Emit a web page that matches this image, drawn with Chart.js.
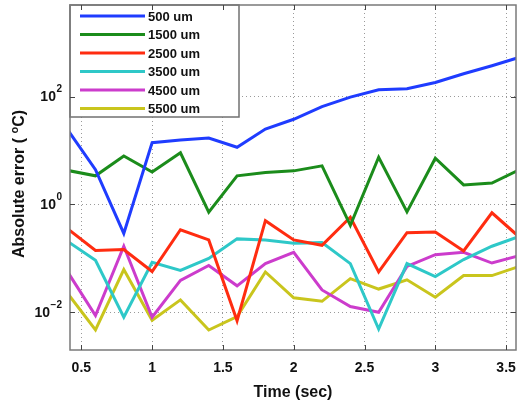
<!DOCTYPE html>
<html>
<head>
<meta charset="utf-8">
<title>Absolute error vs time</title>
<script src="https://cdn.jsdelivr.net/npm/chart.js@4.4.1/dist/chart.umd.min.js"></script>
<style>
  html, body { margin: 0; padding: 0; background: #fff; }
  canvas { display: block; }
</style>
</head>
<body>
<canvas id="errChart" width="517" height="402"></canvas>
<script>
// Time samples (sec)
const timeSec = [0.4, 0.6, 0.8, 1.0, 1.2, 1.4, 1.6, 1.8, 2.0, 2.2, 2.4, 2.6, 2.8, 3.0, 3.2, 3.4, 3.6];

// Absolute error (°C) per sensor depth
const err500 = [25, 4.4, 0.29, 14, 15.7, 17, 11.5, 25, 38, 65, 98, 134, 140, 183, 266, 374, 540];
const err1500 = [4.3, 3.4, 7.9, 4.0, 9.1, 0.72, 3.4, 3.9, 4.2, 5.2, 0.41, 7.5, 0.73, 7.2, 2.3, 2.5, 4.5];
const err2500 = [0.36, 0.14, 0.146, 0.057, 0.34, 0.22, 0.007, 0.5, 0.22, 0.175, 0.58, 0.056, 0.30, 0.31, 0.137, 0.70, 0.24];
const err3500 = [0.21, 0.092, 0.0081, 0.085, 0.06, 0.1, 0.23, 0.22, 0.19, 0.196, 0.08, 0.0049, 0.08, 0.046, 0.095, 0.168, 0.26];
const err4500 = [0.058, 0.0087, 0.168, 0.0081, 0.039, 0.074, 0.031, 0.08, 0.13, 0.026, 0.0128, 0.01, 0.071, 0.117, 0.13, 0.082, 0.114];
const err5500 = [0.023, 0.0047, 0.062, 0.0071, 0.017, 0.0047, 0.0083, 0.056, 0.0186, 0.016, 0.042, 0.027, 0.040, 0.019, 0.048, 0.048, 0.072];

const seriesLabels = ['500 um', '1500 um', '2500 um', '3500 um', '4500 um', '5500 um'];
const seriesColors = ['#1f3cff', '#1b8c1b', '#ff2c10', '#2ec8c8', '#cc3ccc', '#c9c51d'];
const seriesValues = [err500, err1500, err2500, err3500, err4500, err5500];

const xTicks = [0.5, 1, 1.5, 2, 2.5, 3, 3.5];
const yTicks = [0.01, 1, 100];
const yTitle = ['Absolute error ( ', 'o', 'C)'];

const FONT = "'Liberation Sans', Arial, sans-serif";

// fixed axis boxes, no extra label overhang padding
function fixBox(s, size) {
    if (s.isHorizontal()) s.height = size; else s.width = size;
    s.paddingTop = 0; s.paddingBottom = 0; s.paddingLeft = 0; s.paddingRight = 0;
}

// y labels as 10 with a raised exponent, plus the rotated axis title
const logLabels = {
    id: 'logLabels',
    afterDraw(chart) {
        const { ctx, scales } = chart;
        const y = scales.y;
        const big = 'bold 14px ' + FONT, small = 'bold 10px ' + FONT;
        ctx.save();
        ctx.fillStyle = '#111';
        ctx.textBaseline = 'middle';
        y.ticks.forEach(t => {
            const py = y.getPixelForValue(t.value);
            const exp = String(Math.round(Math.log10(t.value))).replace('-', '\u2212');
            ctx.font = small;
            const ew = ctx.measureText(exp).width;
            const right = y.right - 8;
            ctx.textAlign = 'right';
            ctx.fillText(exp, right, py - 7);
            ctx.font = big;
            ctx.fillText('10', right - ew - 0.5, py + 1);
        });

        // rotated title with a raised degree "o"
        ctx.font = 'bold 16px ' + FONT;
        const w0 = ctx.measureText(yTitle[0]).width;
        const w2 = ctx.measureText(yTitle[2]).width;
        ctx.font = 'bold 11px ' + FONT;
        const w1 = ctx.measureText(yTitle[1]).width;
        const total = w0 + w1 + w2;
        ctx.translate(20, 184);
        ctx.rotate(-Math.PI / 2);
        ctx.textAlign = 'left';
        let x = -total / 2;
        ctx.font = 'bold 16px ' + FONT;
        ctx.fillText(yTitle[0], x, 0);
        x += w0;
        ctx.font = 'bold 11px ' + FONT;
        ctx.fillText(yTitle[1], x, -5);
        x += w1;
        ctx.font = 'bold 16px ' + FONT;
        ctx.fillText(yTitle[2], x, 0);
        ctx.restore();
    }
};

// Legend box drawn inside the plot, top-left corner
const insideLegend = {
    id: 'insideLegend',
    afterDatasetsDraw(chart) {
        const { ctx, chartArea } = chart;
        const x0 = chartArea.left, y0 = chartArea.top;
        const w = 169, h = 112;
        ctx.save();
        ctx.fillStyle = '#fff';
        ctx.fillRect(x0, y0, w, h);
        ctx.strokeStyle = '#707070';
        ctx.lineWidth = 1.5;
        ctx.strokeRect(x0, y0, w, h);
        ctx.font = 'bold 13px ' + FONT;
        ctx.textBaseline = 'middle';
        chart.data.datasets.forEach((ds, i) => {
            const y = y0 + 11 + i * 18.5;
            ctx.strokeStyle = ds.borderColor;
            ctx.lineWidth = 3;
            ctx.beginPath();
            ctx.moveTo(x0 + 10, y);
            ctx.lineTo(x0 + 75, y);
            ctx.stroke();
            ctx.fillStyle = '#111';
            ctx.fillText(ds.label, x0 + 78, y + 1);
        });
        ctx.restore();
    }
};

// Box around the axes with inward tick marks
const axesBox = {
    id: 'axesBox',
    afterDraw(chart) {
        const { ctx, chartArea: a, scales } = chart;
        ctx.save();
        ctx.strokeStyle = '#7a7a7a';
        ctx.lineWidth = 1.5;
        ctx.strokeRect(a.left, a.top, a.right - a.left, a.bottom - a.top);
        ctx.strokeStyle = '#444';
        ctx.lineWidth = 1;
        ctx.beginPath();
        xTicks.forEach(v => {
            const px = Math.round(scales.x.getPixelForValue(v)) + 0.5;
            ctx.moveTo(px, a.bottom); ctx.lineTo(px, a.bottom - 5);
            ctx.moveTo(px, a.top); ctx.lineTo(px, a.top + 5);
        });
        yTicks.forEach(v => {
            const py = Math.round(scales.y.getPixelForValue(v)) + 0.5;
            ctx.moveTo(a.left, py); ctx.lineTo(a.left + 5, py);
            ctx.moveTo(a.right, py); ctx.lineTo(a.right - 5, py);
        });
        ctx.stroke();
        ctx.restore();
    }
};

new Chart(document.getElementById('errChart'), {
    type: 'line',
    data: {
        datasets: seriesValues.map((vals, i) => ({
            label: seriesLabels[i],
            data: vals.map((v, j) => ({ x: timeSec[j], y: v })),
            borderColor: seriesColors[i],
            backgroundColor: seriesColors[i],
            borderWidth: 3,
            pointRadius: 0,
            tension: 0,
            clip: 0,
        }))
    },
    options: {
        responsive: false,
        animation: false,
        layout: { padding: { left: 0, top: 5, right: 1, bottom: 0 } },
        plugins: {
            legend: { display: false },
            tooltip: { enabled: false },
        },
        scales: {
            x: {
                type: 'linear',
                min: 0.42,
                max: 3.57,
                afterBuildTicks: s => { s.ticks = xTicks.map(v => ({ value: v })); },
                afterFit: s => fixBox(s, 52),
                grid: { color: '#9a9a9a', lineWidth: 1, drawTicks: false },
                border: { display: false, dash: [1, 3] },
                ticks: {
                    color: '#111',
                    padding: 10,
                    maxRotation: 0,
                    font: { family: FONT, size: 14, weight: 'bold' },
                    callback: v => String(v),
                },
                title: {
                    display: true,
                    text: 'Time (sec)',
                    color: '#111',
                    padding: { top: 0, bottom: 0 },
                    font: { family: FONT, size: 16, weight: 'bold' },
                },
            },
            y: {
                type: 'logarithmic',
                min: 0.002,
                max: 5000,
                afterBuildTicks: s => { s.ticks = yTicks.map(v => ({ value: v })); },
                afterFit: s => fixBox(s, 70),
                grid: { color: '#9a9a9a', lineWidth: 1, drawTicks: false },
                border: { display: false, dash: [1, 3] },
                ticks: { display: false },
            },
        },
    },
    plugins: [insideLegend, axesBox, logLabels],
});
</script>
</body>
</html>
